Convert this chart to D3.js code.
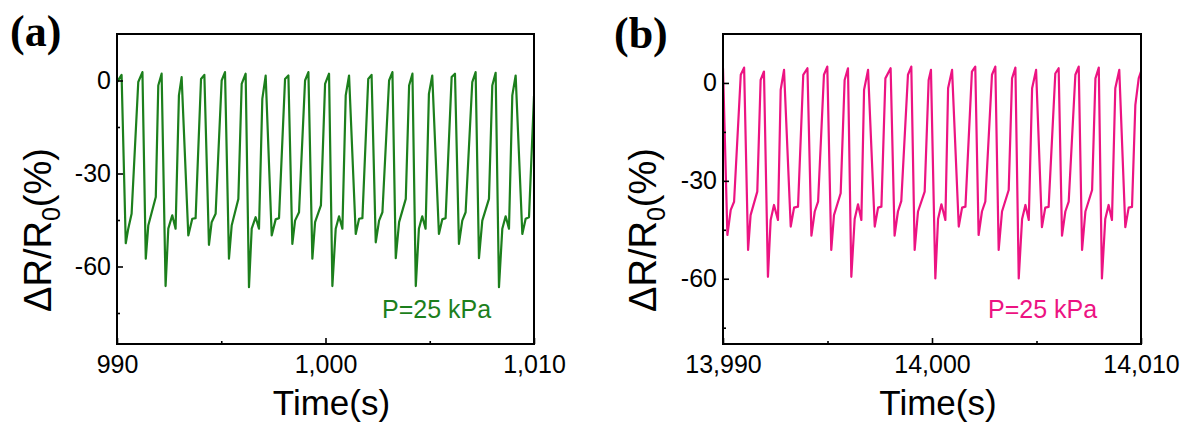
<!DOCTYPE html>
<html>
<head>
<meta charset="utf-8">
<script src="https://cdn.jsdelivr.net/npm/d3@7"></script>
<style>
  body { margin: 0; background: #fff; }
  svg { display: block; }
  .axis text { font-family: Arial, "Liberation Sans", sans-serif; fill: #000; }
  .axis path { display: none; }
  .axis line { stroke: #000; stroke-width: 1.6; }
</style>
</head>
<body>
<div id="chart"></div>
<script>
// values, one vertex per entry
var timeA = [990.00, 990.22, 990.42, 990.54, 990.70, 991.02, 991.22, 991.38, 991.50, 991.86,
  991.98, 992.14, 992.33, 992.46, 992.65, 992.81, 992.97, 993.10, 993.42, 993.61,
  993.77, 994.03, 994.19, 994.41, 994.54, 994.73, 995.02, 995.18, 995.37, 995.50,
  995.82, 995.98, 996.17, 996.33, 996.46, 996.65, 996.81, 996.97, 997.13, 997.42,
  997.61, 997.77, 998.06, 998.22, 998.41, 998.54, 998.73, 999.02, 999.18, 999.37,
  999.50, 999.78, 999.98, 1000.17, 1000.33, 1000.49, 1000.65, 1000.81, 1000.97, 1001.13,
  1001.45, 1001.61, 1001.77, 1002.05, 1002.21, 1002.41, 1002.57, 1002.73, 1003.05, 1003.21,
  1003.37, 1003.53, 1003.85, 1004.01, 1004.17, 1004.33, 1004.48, 1004.64, 1004.80, 1004.96,
  1005.12, 1005.44, 1005.60, 1005.76, 1006.05, 1006.21, 1006.40, 1006.56, 1006.72, 1007.04,
  1007.20, 1007.36, 1007.52, 1007.84, 1008.00, 1008.16, 1008.32, 1008.48, 1008.64, 1008.80,
  1008.96, 1009.12, 1009.44, 1009.60, 1009.76, 1010.00];
var valueA = [-0.5, 1.8, -52.5, -47.8, -43.0, -0.5, 2.7, -57.5, -46.8, -37.6,
  -1.6, 2.2, -66.3, -47.8, -43.5, -47.8, -4.8, 1.1, -50.0, -44.6,
  -44.4, 0.5, 1.8, -53.0, -45.7, -43.0, 0.0, 2.7, -57.5, -46.8,
  -38.2, -1.1, 2.2, -66.7, -47.8, -44.1, -47.8, -5.9, 1.6, -50.0,
  -44.8, -44.4, 0.5, 1.6, -52.7, -45.2, -42.5, 0.0, 2.7, -57.5,
  -45.7, -40.3, -1.1, 2.2, -66.3, -47.8, -43.8, -47.8, -4.8, 1.6,
  -49.5, -44.6, -44.4, 0.5, 1.8, -52.2, -45.2, -42.5, 0.0, 2.7,
  -57.3, -45.7, -38.2, -1.6, 2.2, -66.3, -47.8, -43.8, -47.8, -4.3,
  1.6, -49.5, -44.8, -44.4, 1.1, 2.2, -52.7, -45.2, -42.5, -0.5,
  2.7, -57.3, -45.2, -38.2, -1.6, 2.5, -66.7, -47.8, -43.8, -47.8,
  -4.8, 1.6, -49.5, -44.6, -44.1, -5.0];

var timeB = [13990.00, 13990.21, 13990.37, 13990.53, 13990.85, 13991.01, 13991.20, 13991.32, 13991.64, 13991.80,
  13991.96, 13992.15, 13992.28, 13992.44, 13992.63, 13992.76, 13992.92, 13993.24, 13993.40, 13993.59,
  13993.84, 13994.04, 13994.23, 13994.39, 13994.55, 13994.83, 13994.99, 13995.18, 13995.31, 13995.63,
  13995.82, 13995.98, 13996.14, 13996.30, 13996.46, 13996.62, 13996.75, 13996.94, 13997.26, 13997.42,
  13997.58, 13997.77, 13998.02, 13998.21, 13998.37, 13998.53, 13998.85, 13999.01, 13999.17, 13999.33,
  13999.65, 13999.84, 13999.95, 14000.16, 14000.29, 14000.45, 14000.64, 14000.77, 14000.96, 14001.28,
  14001.44, 14001.60, 14001.91, 14002.07, 14002.23, 14002.39, 14002.55, 14002.87, 14003.03, 14003.19,
  14003.35, 14003.67, 14003.83, 14003.99, 14004.15, 14004.31, 14004.47, 14004.63, 14004.79, 14004.98,
  14005.26, 14005.42, 14005.58, 14005.90, 14006.06, 14006.22, 14006.38, 14006.54, 14006.86, 14007.02,
  14007.18, 14007.34, 14007.66, 14007.82, 14007.98, 14008.13, 14008.29, 14008.45, 14008.61, 14008.77,
  14008.96, 14009.25, 14009.41, 14009.57, 14009.73, 14009.89, 14010.00];
var valueB = [4.5, -46.6, -38.9, -36.4, 2.5, 4.7, -51.2, -40.5, -33.3, 0.9,
  3.5, -59.4, -42.0, -37.4, -42.0, -2.1, 4.0, -44.0, -38.2, -37.9,
  2.5, 4.5, -46.8, -39.4, -36.4, 2.5, 5.0, -51.2, -40.5, -33.8,
  0.9, 4.5, -59.4, -41.7, -37.2, -42.0, -2.1, 4.0, -44.0, -38.2,
  -37.9, 1.4, 4.5, -46.8, -39.4, -36.2, 2.5, 5.0, -51.2, -39.4,
  -33.3, 0.9, 4.0, -59.9, -41.7, -37.2, -42.0, -1.6, 4.0, -44.0,
  -38.2, -37.9, 3.5, 5.0, -46.6, -39.4, -36.4, 2.5, 5.0, -51.2,
  -39.4, -32.8, 1.4, 4.7, -59.9, -41.7, -37.4, -42.0, -1.6, 4.0,
  -44.2, -38.2, -38.0, 2.9, 4.5, -46.8, -39.4, -36.4, 2.5, 5.0,
  -51.2, -39.4, -32.8, 1.4, 4.7, -59.9, -41.7, -37.4, -42.0, -1.6,
  4.0, -44.2, -38.2, -38.0, -6.7, 1.4, 3.5];

var xDomainA = [990, 1010], xTicksA = [990, 1000, 1010], xMinorA = [995, 1005];
var xDomainB = [13990, 14010], xTicksB = [13990, 14000, 14010], xMinorB = [13995, 14005];
var yDomainA = [-85, 15], yDomainB = [-80, 15];
var yTicks = [0, -30, -60], yMinor = [-15, -45, -75];
var panelTags = ["(a)", "(b)"];
var noteText = "P=25 kPa";

var W = 1184, H = 423;
var FONT = 'Arial, "Liberation Sans", sans-serif';

var svg = d3.select("#chart").append("svg").attr("width", W).attr("height", H);

function drawPanel(p){
  var x = d3.scaleLinear().domain(p.xDomain).range([p.left, p.right]);
  var y = d3.scaleLinear().domain(p.yDomain).range([p.bottom, p.top]);
  var fmt = d3.format(",");

  var g = svg.append("g");

  g.append("clipPath").attr("id", "clip" + p.id)
    .append("rect")
    .attr("x", p.left).attr("y", p.top)
    .attr("width", p.right - p.left).attr("height", p.bottom - p.top);

  var pts = p.times.map(function(t, i){ return [t, p.values[i]] });
  var line = d3.line().x(function(d){ return x(d[0]) }).y(function(d){ return y(d[1]) });

  g.append("path")
    .datum(pts)
    .attr("clip-path", "url(#clip" + p.id + ")")
    .attr("d", line)
    .attr("fill", "none")
    .attr("stroke", p.color)
    .attr("stroke-width", 2.2)
    .attr("stroke-linejoin", "round");

  // major ticks point inward
  g.append("g").attr("class", "axis")
    .attr("transform", "translate(0," + p.bottom + ")")
    .call(d3.axisBottom(x).tickValues(p.xTicks).tickFormat(fmt).tickSize(-6).tickPadding(11))
    .selectAll("text").style("font-size", "25px");
  g.append("g").attr("class", "axis")
    .attr("transform", "translate(0," + p.bottom + ")")
    .call(d3.axisBottom(x).tickValues(p.xMinor).tickFormat("").tickSize(-3));

  g.append("g").attr("class", "axis")
    .attr("transform", "translate(" + p.left + ",0)")
    .call(d3.axisLeft(y).tickValues(yTicks).tickFormat(function(d){ return String(d) }).tickSize(-6).tickPadding(6))
    .selectAll("text").style("font-size", "25px");
  g.append("g").attr("class", "axis")
    .attr("transform", "translate(" + p.left + ",0)")
    .call(d3.axisLeft(y).tickValues(yMinor).tickFormat("").tickSize(-3));

  g.append("rect")
    .attr("x", p.left).attr("y", p.top)
    .attr("width", p.right - p.left).attr("height", p.bottom - p.top)
    .attr("fill", "none").attr("stroke", "#000").attr("stroke-width", 2);

  g.append("text")
    .attr("x", (p.left + p.right) / 2 + 6).attr("y", 415)
    .attr("text-anchor", "middle")
    .style("font-family", FONT).style("font-size", "35px")
    .text("Time(s)");

  var yl = g.append("text")
    .attr("transform", "translate(" + p.yLabelX + ",230) rotate(-90)")
    .attr("text-anchor", "middle")
    .style("font-family", FONT).style("font-size", "38px");
  yl.append("tspan").text("\u0394R/R");
  yl.append("tspan").attr("dy", 9).style("font-size", "25px").text("0");
  yl.append("tspan").attr("dy", -9).text("(%)");

  g.append("text")
    .attr("x", p.noteX).attr("y", 318)
    .style("font-family", FONT).style("font-size", "25px")
    .attr("fill", p.color)
    .text(noteText);

  g.append("text")
    .attr("x", p.tagX).attr("y", p.tagY)
    .style("font-family", '"Times New Roman", "Liberation Serif", serif')
    .style("font-weight", "bold").style("font-size", "44px")
    .text(p.tag);
}

drawPanel({
  id: "a", left: 117, right: 534, top: 34, bottom: 344,
  xDomain: xDomainA, xTicks: xTicksA, xMinor: xMinorA, yDomain: yDomainA,
  times: timeA, values: valueA, color: "#1c7f1c",
  yLabelX: 51, noteX: 382, tag: panelTags[0], tagX: 10, tagY: 46
});
drawPanel({
  id: "b", left: 723, right: 1141, top: 34, bottom: 344,
  xDomain: xDomainB, xTicks: xTicksB, xMinor: xMinorB, yDomain: yDomainB,
  times: timeB, values: valueB, color: "#ec1382",
  yLabelX: 656, noteX: 988, tag: panelTags[1], tagX: 614, tagY: 48
});
</script>
</body>
</html>
